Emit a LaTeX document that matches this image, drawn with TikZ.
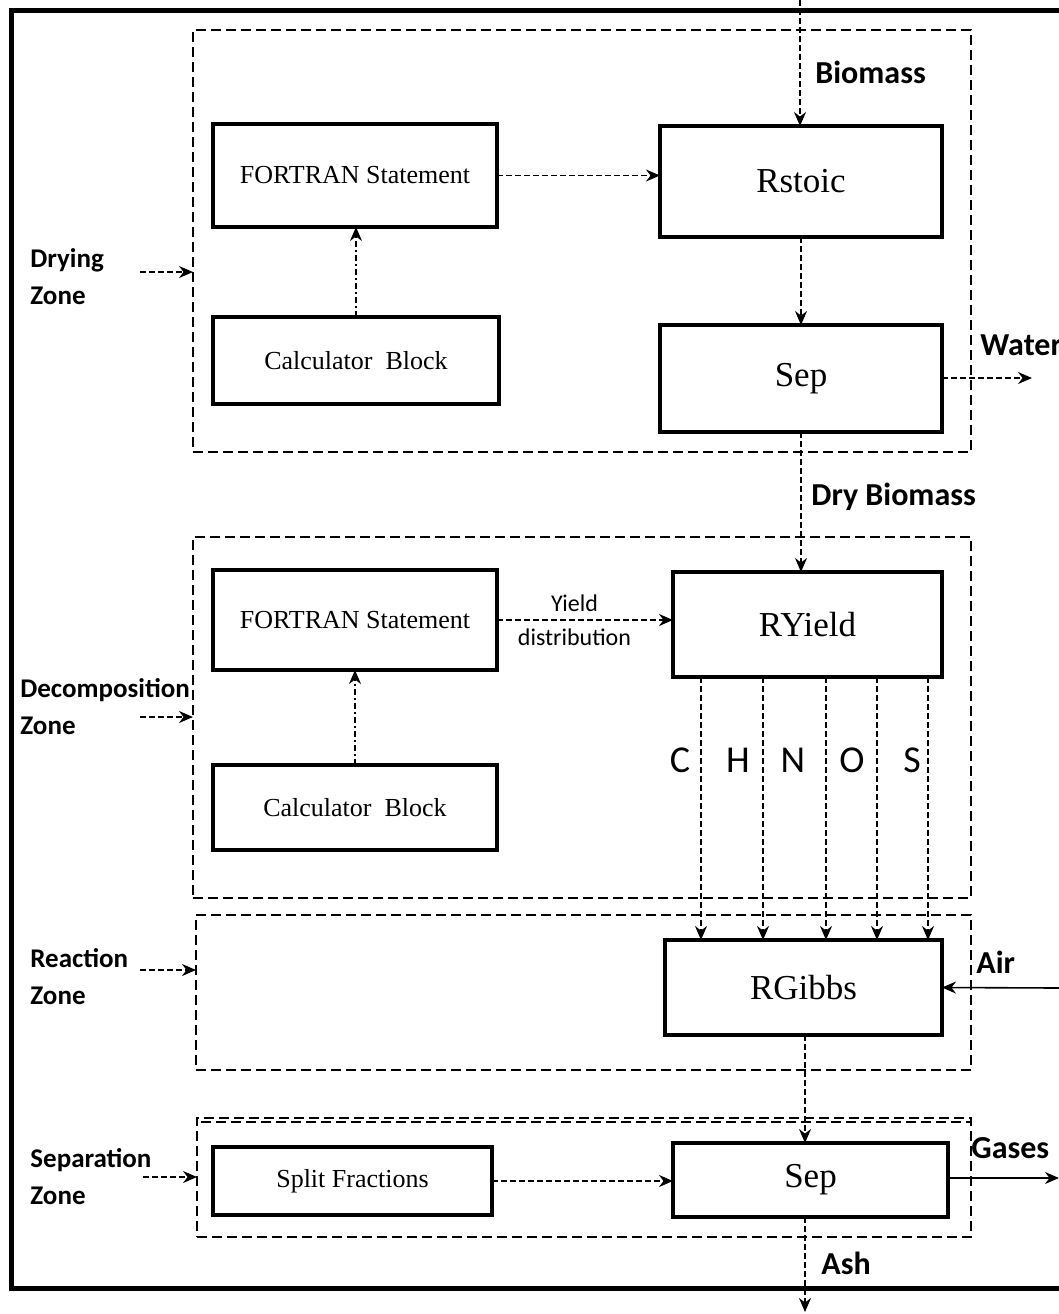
\documentclass[tikz,border=0pt]{standalone}
\usepackage{fontspec}
\setmainfont{Liberation Serif}
\newfontfamily\lblfont{Carlito}
\usetikzlibrary{positioning,arrows.meta,quotes}

\begin{document}
\begin{tikzpicture}[x=0.5pt,y=-0.5pt,
    >={Stealth[length=7pt,width=6pt]},
    blk/.style={draw,line width=2pt,outer sep=0pt,font=\fontsize{13}{15}\selectfont},
    unit/.style={blk,font=\fontsize{17.5}{20}\selectfont},
    zone/.style={draw,line width=0.6pt,dash pattern=on 5pt off 2.5pt,outer sep=0pt},
    flow/.style={draw,->,line width=0.7pt,dash pattern=on 3pt off 1.5pt},
    ctrl/.style={draw,->,line width=0.7pt,dash pattern=on 3pt off 1.5pt on 1pt off 1.5pt},
    feed/.style={draw,->,line width=0.8pt},
    zlabel/.style={anchor=west,inner sep=0pt,align=left,
        font=\lblfont\bfseries\fontsize{13.5}{18.5}\selectfont},
    slabel/.style={anchor=west,inner sep=0pt,font=\lblfont\bfseries\fontsize{16}{19}\selectfont},
]
\useasboundingbox (0,0) rectangle (1059,1314);

% outer frame, open on the right
\draw[line width=2.5pt] (1059,10) -- (11,10) -- (11,1288) -- (1059,1288);

% zones
\node[zone,minimum width=389pt,minimum height=211pt] (dz) at (582,241) {};
\node[zone,minimum width=389pt,minimum height=180.5pt] (dcz) at (582,717.5) {};
\node[zone,minimum width=387.5pt,minimum height=77.5pt] (rz) at (583.5,992.5) {};
\node[zone,minimum width=387pt,minimum height=59.5pt] (sz) at (584,1177.5) {};
\draw[line width=0.6pt,dash pattern=on 5pt off 2.5pt] (sz.north west) ++(4,4) -- ++(770,0);

\node[zlabel] (dzl) at (30,277) {Drying\\Zone};
\node[zlabel] (dczl) at (20,707) {Decomposition\\Zone};
\node[zlabel] (rzl) at (30,977) {Reaction\\Zone};
\node[zlabel] (szl) at (30,1177) {Separation\\Zone};

% blocks
\node[blk,minimum width=142pt,minimum height=51.5pt] (fs1) at (355,175.5) {FORTRAN Statement};
\node[blk,minimum width=143pt,minimum height=43.5pt] (cb1) at (356,360.5) {Calculator~ Block};
\node[unit,minimum width=141pt,minimum height=55.5pt] (rs) at (801,181.5) {Rstoic};
\node[unit,minimum width=141pt,minimum height=53.5pt] (sep1) at (801,378.5) {Sep};
\node[blk,minimum width=142pt,minimum height=50pt] (fs2) at (355,620) {FORTRAN Statement};
\node[blk,minimum width=142pt,minimum height=42.5pt] (cb2) at (355,807.5) {Calculator~ Block};
\node[unit,minimum width=134.5pt,minimum height=52.5pt] (ry) at (807.5,624.5) {RYield};
\node[unit,minimum width=138.5pt,minimum height=47.5pt] (rg) at (803.5,987.5) {RGibbs};
\node[blk,minimum width=139.5pt,minimum height=34pt] (sf) at (352.5,1181) {Split Fractions};
\node[unit,minimum width=137.5pt,minimum height=37pt] (sep2) at (810.5,1180) {Sep};

% stream labels
\node[slabel] (bml) at (815,72) {Biomass};
\node[slabel] (wl) at (980,345) {Water};
\node[slabel] (dbl) at (811,497) {Dry Biomass};
\node[slabel] (al) at (976,962) {Air};
\node[slabel] (gl) at (971,1148) {Gases};
\node[slabel] (ashl) at (821,1263) {Ash};

\coordinate (bm) at (800,0);
\coordinate (wat) at (1032,378);
\coordinate (air) at (1059,988);
\coordinate (gas) at (1059,1178);
\coordinate (ash) at (805,1312);
\coordinate (rgo) at (805,1060);
\coordinate (dza) at (140,272);
\coordinate (dcza) at (140,717);
\coordinate (rza) at (140,970);
\coordinate (sza) at (143,1177);

\path[every edge/.style={flow},
    every edge quotes/.style={auto,inner sep=4pt,pos=0.44,
        node font=\lblfont\fontsize{12}{14}\selectfont},
]
(bm) edge (bm |- rs.north)
(rs) edge (rs.south |- sep1.north)
(sep1.south) edge (sep1.south |- ry.north)
(fs1.east) edge (fs1.east -| rs.west)
(sep1.east |- wat) edge (wat)
(fs2.east) edge["Yield" above, "distribution" below] (fs2.east -| ry.west)
(rg.south -| rgo) edge (sep2.north -| rgo)
(sf.east) edge (sf.east -| sep2.west)
(sep2.south -| ash) edge (ash)
(dza) edge (dza -| dz.west)
(dcza) edge (dcza -| dcz.west)
(rza) edge (rza -| rz.west)
(sza) edge (sza -| sz.west)
;
\path[every edge/.style={ctrl}]
(cb1.north) edge (cb1.north |- fs1.south)
(cb2.north) edge (cb2.north |- fs2.south)
;
\path[every edge/.style={feed}]
(air) edge (rg.east)
(gas -| sep2.east) edge (gas)
;

% elements out of RYield
\foreach \xx/\el/\lx in {701/C/680,763/H/738,826/N/793,877/O/852,928/S/912}{
  \draw[flow] (ry.south -| \xx,0) -- (rg.north -| \xx,0);
  \node[font=\lblfont\fontsize{19}{22}\selectfont] (el\el) at (\lx,760) {\el};
}
\end{tikzpicture}
\end{document}
